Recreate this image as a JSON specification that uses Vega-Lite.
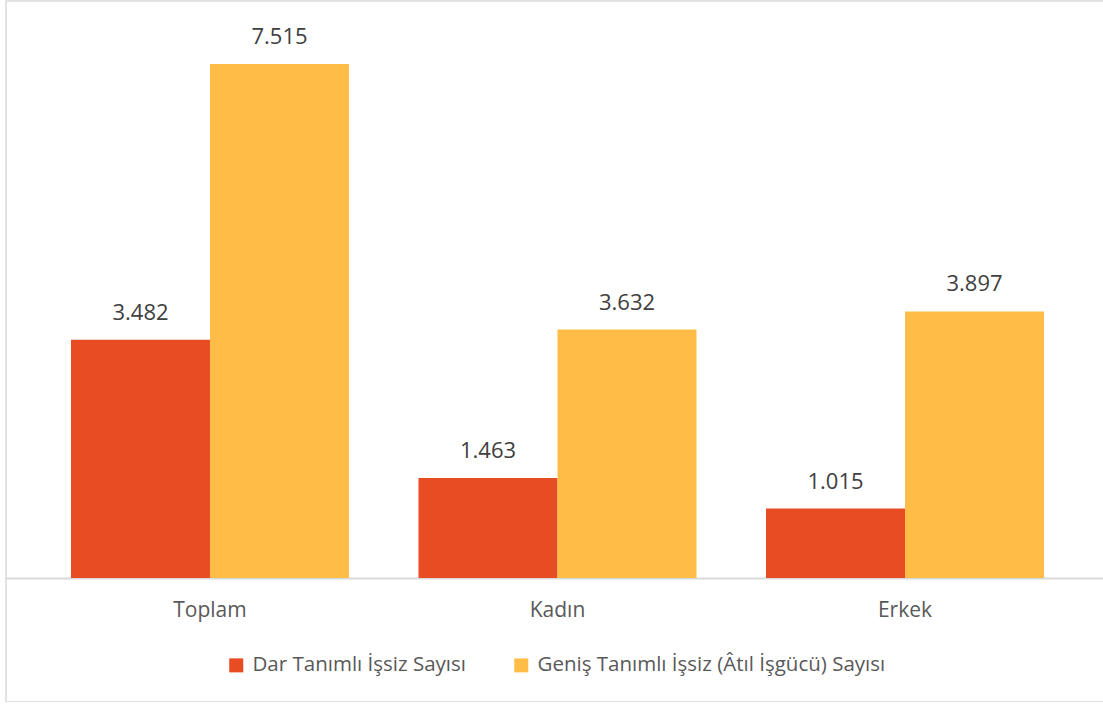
{
  "$schema": "https://vega.github.io/schema/vega-lite/v6.json",
  "width": 1103,
  "height": 701,
  "autosize": "none",
  "padding": {"left": 6, "top": 1, "right": 0, "bottom": 0},
  "background": "white",
  "config": {
    "font": "Open Sans",
    "view": {"stroke": "#d9d9d9", "strokeWidth": 1.5}
  },
  "data": {
    "values": [
      {"grup": "Toplam", "seri": "Dar Tanımlı İşsiz Sayısı", "deger": 3.482, "etiket": "3.482"},
      {"grup": "Toplam", "seri": "Geniş Tanımlı İşsiz (Âtıl İşgücü) Sayısı", "deger": 7.515, "etiket": "7.515"},
      {"grup": "Kadın", "seri": "Dar Tanımlı İşsiz Sayısı", "deger": 1.463, "etiket": "1.463"},
      {"grup": "Kadın", "seri": "Geniş Tanımlı İşsiz (Âtıl İşgücü) Sayısı", "deger": 3.632, "etiket": "3.632"},
      {"grup": "Erkek", "seri": "Dar Tanımlı İşsiz Sayısı", "deger": 1.015, "etiket": "1.015"},
      {"grup": "Erkek", "seri": "Geniş Tanımlı İşsiz (Âtıl İşgücü) Sayısı", "deger": 3.897, "etiket": "3.897"}
    ]
  },
  "encoding": {
    "x": {
      "field": "grup", "type": "nominal", "sort": ["Toplam", "Kadın", "Erkek"],
      "scale": {"paddingInner": 0.2, "paddingOuter": 0.187},
      "axis": {
        "title": null, "orient": "bottom", "offset": -124, "ticks": false,
        "domainColor": "#d9d9d9", "domainWidth": 2,
        "labelFont": "Open Sans", "labelFontSize": 21, "labelColor": "#595959",
        "labelPadding": 21, "labelAngle": 0
      }
    },
    "xOffset": {"field": "seri", "type": "nominal", "sort": ["Dar Tanımlı İşsiz Sayısı", "Geniş Tanımlı İşsiz (Âtıl İşgücü) Sayısı"]},
    "y": {
      "field": "deger", "type": "quantitative",
      "scale": {"domain": [-1.813, 8.436], "nice": false, "zero": false},
      "axis": null
    }
  },
  "layer": [
    {
      "mark": {"type": "bar"},
      "encoding": {
        "y2": {"datum": 0},
        "color": {
          "field": "seri", "type": "nominal",
          "scale": {"domain": ["Dar Tanımlı İşsiz Sayısı", "Geniş Tanımlı İşsiz (Âtıl İşgücü) Sayısı"], "range": ["#E84C22", "#FFBD48"]},
          "legend": {
            "title": null, "orient": "none", "direction": "horizontal",
            "legendX": 220, "legendY": 654,
            "symbolType": "square", "symbolSize": 196, "symbolStrokeWidth": 0,
            "labelFont": "Open Sans", "labelFontSize": 20.5, "labelColor": "#595959",
            "labelOffset": 6, "columnPadding": 45, "labelLimit": 600
          }
        }
      }
    },
    {
      "mark": {"type": "text", "baseline": "alphabetic", "dy": -20, "fontSize": 22, "color": "#404040", "font": "Open Sans"},
      "encoding": {
        "text": {"field": "etiket"}
      }
    }
  ]
}
